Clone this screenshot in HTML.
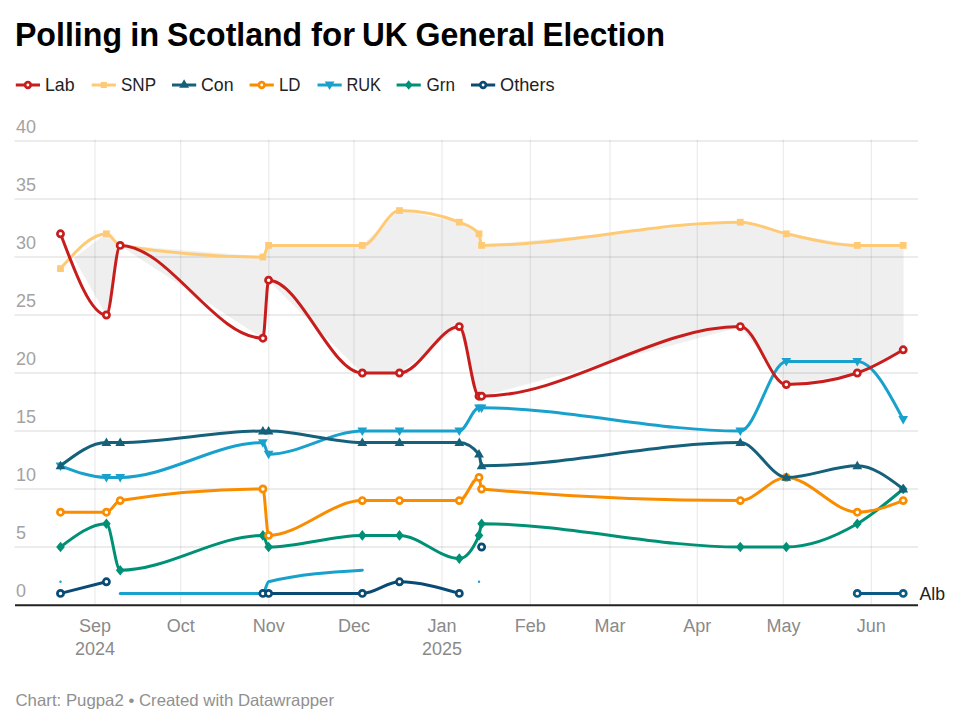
<!DOCTYPE html>
<html><head><meta charset="utf-8"><title>Polling in Scotland for UK General Election</title>
<style>
html,body{margin:0;padding:0;background:#fff;}
body{width:960px;height:726px;overflow:hidden;font-family:"Liberation Sans",sans-serif;}
svg{display:block;}
text{font-family:"Liberation Sans",sans-serif;}
.title{font-size:33px;font-weight:bold;fill:#000;}
.leg{font-size:19px;fill:#222;}
.yl{font-size:18px;fill:#a3a3a3;}
.xl{font-size:18px;fill:#8a8a8a;text-anchor:middle;}
.lab{font-size:19px;fill:#222;}
.foot{font-size:16.5px;fill:#909090;}
</style></head><body>
<svg width="960" height="726" viewBox="0 0 960 726">
<rect width="960" height="726" fill="#fff"/>
<text x="14.93" y="46.2" class="title" textLength="107.13" lengthAdjust="spacingAndGlyphs">Polling</text><text x="130.24" y="46.2" class="title" textLength="29.00" lengthAdjust="spacingAndGlyphs">in</text><text x="166.98" y="46.2" class="title" textLength="135.08" lengthAdjust="spacingAndGlyphs">Scotland</text><text x="310.98" y="46.2" class="title" textLength="44.04" lengthAdjust="spacingAndGlyphs">for</text><text x="361.91" y="46.2" class="title" textLength="45.60" lengthAdjust="spacingAndGlyphs">UK</text><text x="415.48" y="46.2" class="title" textLength="119.57" lengthAdjust="spacingAndGlyphs">General</text><text x="542.46" y="46.2" class="title" textLength="122.58" lengthAdjust="spacingAndGlyphs">Election</text>
<path d="M74.27,258.16L106.40,233.80L106.40,315.00ZM106.40,233.80L120.20,245.40L120.20,245.40L106.40,315.00ZM120.20,245.40L262.90,257.00L262.90,338.20L120.20,245.40ZM262.90,257.00L268.60,245.40L268.60,280.20L262.90,338.20ZM268.60,245.40L362.30,245.40L362.30,373.00L268.60,280.20ZM362.30,245.40L399.50,210.60L399.50,373.00L362.30,373.00ZM399.50,210.60L459.30,222.20L459.30,326.60L399.50,373.00ZM459.30,222.20L479.00,233.80L479.00,396.20L459.30,326.60ZM479.00,233.80L481.60,245.40L481.60,396.20L479.00,396.20ZM481.60,245.40L740.30,222.20L740.30,326.60L481.60,396.20ZM740.30,222.20L786.30,233.80L786.30,384.60L740.30,326.60ZM786.30,233.80L857.30,245.40L857.30,373.00L786.30,384.60ZM857.30,245.40L903.20,245.40L903.20,349.80L857.30,373.00Z" fill="#efefef" stroke="#efefef" stroke-width="0.6"/>
<line x1="14.5" x2="918" y1="547.0" y2="547.0" stroke="#000" stroke-opacity="0.1" stroke-width="1.5"/>
<line x1="14.5" x2="918" y1="489.0" y2="489.0" stroke="#000" stroke-opacity="0.1" stroke-width="1.5"/>
<line x1="14.5" x2="918" y1="431.0" y2="431.0" stroke="#000" stroke-opacity="0.1" stroke-width="1.5"/>
<line x1="14.5" x2="918" y1="373.0" y2="373.0" stroke="#000" stroke-opacity="0.1" stroke-width="1.5"/>
<line x1="14.5" x2="918" y1="315.0" y2="315.0" stroke="#000" stroke-opacity="0.1" stroke-width="1.5"/>
<line x1="14.5" x2="918" y1="257.0" y2="257.0" stroke="#000" stroke-opacity="0.1" stroke-width="1.5"/>
<line x1="14.5" x2="918" y1="199.0" y2="199.0" stroke="#000" stroke-opacity="0.1" stroke-width="1.5"/>
<line x1="14.5" x2="918" y1="141.0" y2="141.0" stroke="#000" stroke-opacity="0.1" stroke-width="1.5"/>
<line x1="95.0" x2="95.0" y1="139.5" y2="605" stroke="#000" stroke-opacity="0.075" stroke-width="1.3"/>
<line x1="180.7" x2="180.7" y1="139.5" y2="605" stroke="#000" stroke-opacity="0.075" stroke-width="1.3"/>
<line x1="268.8" x2="268.8" y1="139.5" y2="605" stroke="#000" stroke-opacity="0.075" stroke-width="1.3"/>
<line x1="354.0" x2="354.0" y1="139.5" y2="605" stroke="#000" stroke-opacity="0.075" stroke-width="1.3"/>
<line x1="442.0" x2="442.0" y1="139.5" y2="605" stroke="#000" stroke-opacity="0.075" stroke-width="1.3"/>
<line x1="530.3" x2="530.3" y1="139.5" y2="605" stroke="#000" stroke-opacity="0.075" stroke-width="1.3"/>
<line x1="610.0" x2="610.0" y1="139.5" y2="605" stroke="#000" stroke-opacity="0.075" stroke-width="1.3"/>
<line x1="697.3" x2="697.3" y1="139.5" y2="605" stroke="#000" stroke-opacity="0.075" stroke-width="1.3"/>
<line x1="783.4" x2="783.4" y1="139.5" y2="605" stroke="#000" stroke-opacity="0.075" stroke-width="1.3"/>
<line x1="871.3" x2="871.3" y1="139.5" y2="605" stroke="#000" stroke-opacity="0.075" stroke-width="1.3"/>
<text x="16" y="596.7" class="yl">0</text>
<text x="16" y="538.7" class="yl">5</text>
<text x="16" y="480.7" class="yl">10</text>
<text x="16" y="422.7" class="yl">15</text>
<text x="16" y="364.7" class="yl">20</text>
<text x="16" y="306.7" class="yl">25</text>
<text x="16" y="248.7" class="yl">30</text>
<text x="16" y="190.7" class="yl">35</text>
<text x="16" y="132.7" class="yl">40</text>
<line x1="15" x2="918" y1="605.2" y2="605.2" stroke="#222" stroke-width="2"/>
<text x="95.0" y="631.5" class="xl">Sep</text>
<text x="180.7" y="631.5" class="xl">Oct</text>
<text x="268.8" y="631.5" class="xl">Nov</text>
<text x="354.0" y="631.5" class="xl">Dec</text>
<text x="442.0" y="631.5" class="xl">Jan</text>
<text x="530.3" y="631.5" class="xl">Feb</text>
<text x="610.0" y="631.5" class="xl">Mar</text>
<text x="697.3" y="631.5" class="xl">Apr</text>
<text x="783.4" y="631.5" class="xl">May</text>
<text x="871.3" y="631.5" class="xl">Jun</text>
<text x="95.0" y="655" class="xl">2024</text>
<text x="442.0" y="655" class="xl">2025</text>
<g><circle cx="60.50" cy="581.80" r="1.2" fill="#18a1cd"/><path d="M120.20,593.40C167.77,593.40,215.33,593.40,262.90,593.40C264.80,593.40,266.70,582.27,268.60,581.80C299.83,574.07,331.07,572.13,362.30,570.20" fill="none" stroke="#18a1cd" stroke-width="3.0" stroke-linejoin="round" stroke-linecap="round"/><circle cx="479.00" cy="581.80" r="1.2" fill="#18a1cd"/></g>
<g><path d="M60.50,593.40L106.40,581.80" fill="none" stroke="#0a4b75" stroke-width="3.0" stroke-linejoin="round" stroke-linecap="round"/><path d="M262.90,593.40C264.80,593.40,266.70,593.40,268.60,593.40C299.83,593.40,331.07,593.40,362.30,593.40C374.70,593.40,387.10,581.80,399.50,581.80C419.43,581.80,439.37,587.60,459.30,593.40" fill="none" stroke="#0a4b75" stroke-width="3.0" stroke-linejoin="round" stroke-linecap="round"/><circle cx="60.50" cy="593.40" r="3.10" fill="#fff" stroke="#0a4b75" stroke-width="2.7"/><circle cx="106.40" cy="581.80" r="3.10" fill="#fff" stroke="#0a4b75" stroke-width="2.7"/><circle cx="262.90" cy="593.40" r="3.10" fill="#fff" stroke="#0a4b75" stroke-width="2.7"/><circle cx="268.60" cy="593.40" r="3.10" fill="#fff" stroke="#0a4b75" stroke-width="2.7"/><circle cx="362.30" cy="593.40" r="3.10" fill="#fff" stroke="#0a4b75" stroke-width="2.7"/><circle cx="399.50" cy="581.80" r="3.10" fill="#fff" stroke="#0a4b75" stroke-width="2.7"/><circle cx="459.30" cy="593.40" r="3.10" fill="#fff" stroke="#0a4b75" stroke-width="2.7"/><circle cx="481.60" cy="547.00" r="3.10" fill="#fff" stroke="#0a4b75" stroke-width="2.7"/></g>
<g><path d="M857.30,593.40L903.20,593.40" fill="none" stroke="#0b5a85" stroke-width="3.0" stroke-linejoin="round" stroke-linecap="round"/><circle cx="857.30" cy="593.40" r="3.10" fill="#fff" stroke="#0b5a85" stroke-width="2.7"/><circle cx="903.20" cy="593.40" r="3.10" fill="#fff" stroke="#0b5a85" stroke-width="2.7"/></g>
<g><path d="M60.50,547.00C75.80,535.40,91.10,523.80,106.40,523.80C111.00,523.80,115.60,570.20,120.20,570.20C167.77,570.20,215.33,535.40,262.90,535.40C264.80,535.40,266.70,547.00,268.60,547.00C299.83,547.00,331.07,535.40,362.30,535.40C374.70,535.40,387.10,535.40,399.50,535.40C419.43,535.40,439.37,558.60,459.30,558.60C465.87,558.60,472.43,550.87,479.00,535.40C479.87,533.36,480.73,523.80,481.60,523.80C567.83,523.80,654.07,547.00,740.30,547.00C755.63,547.00,770.97,547.00,786.30,547.00C809.97,547.00,833.63,537.73,857.30,523.80C872.60,514.79,887.90,501.90,903.20,489.00" fill="none" stroke="#009076" stroke-width="3.0" stroke-linejoin="round" stroke-linecap="round"/><path d="M60.50,541.70L64.80,547.00L60.50,552.30L56.20,547.00Z" fill="#009076"/><path d="M106.40,518.50L110.70,523.80L106.40,529.10L102.10,523.80Z" fill="#009076"/><path d="M120.20,564.90L124.50,570.20L120.20,575.50L115.90,570.20Z" fill="#009076"/><path d="M262.90,530.10L267.20,535.40L262.90,540.70L258.60,535.40Z" fill="#009076"/><path d="M268.60,541.70L272.90,547.00L268.60,552.30L264.30,547.00Z" fill="#009076"/><path d="M362.30,530.10L366.60,535.40L362.30,540.70L358.00,535.40Z" fill="#009076"/><path d="M399.50,530.10L403.80,535.40L399.50,540.70L395.20,535.40Z" fill="#009076"/><path d="M459.30,553.30L463.60,558.60L459.30,563.90L455.00,558.60Z" fill="#009076"/><path d="M479.00,530.10L483.30,535.40L479.00,540.70L474.70,535.40Z" fill="#009076"/><path d="M481.60,518.50L485.90,523.80L481.60,529.10L477.30,523.80Z" fill="#009076"/><path d="M740.30,541.70L744.60,547.00L740.30,552.30L736.00,547.00Z" fill="#009076"/><path d="M786.30,541.70L790.60,547.00L786.30,552.30L782.00,547.00Z" fill="#009076"/><path d="M857.30,518.50L861.60,523.80L857.30,529.10L853.00,523.80Z" fill="#009076"/><path d="M903.20,483.70L907.50,489.00L903.20,494.30L898.90,489.00Z" fill="#009076"/></g>
<g><path d="M60.50,465.80C75.80,471.60,91.10,477.40,106.40,477.40C111.00,477.40,115.60,477.40,120.20,477.40C167.77,477.40,215.33,442.60,262.90,442.60C264.80,442.60,266.70,454.20,268.60,454.20C299.83,454.20,331.07,431.00,362.30,431.00C374.70,431.00,387.10,431.00,399.50,431.00C419.43,431.00,439.37,431.00,459.30,431.00C465.87,431.00,472.43,407.80,479.00,407.80C479.87,407.80,480.73,407.80,481.60,407.80C567.83,407.80,654.07,431.00,740.30,431.00C755.63,431.00,770.97,361.40,786.30,361.40C809.97,361.40,833.63,361.40,857.30,361.40C872.60,361.40,887.90,390.40,903.20,419.40" fill="none" stroke="#18a1cd" stroke-width="3.0" stroke-linejoin="round" stroke-linecap="round"/><path d="M60.50,470.90L65.40,462.40L55.60,462.40Z" fill="#18a1cd"/><path d="M106.40,482.50L111.30,474.00L101.50,474.00Z" fill="#18a1cd"/><path d="M120.20,482.50L125.10,474.00L115.30,474.00Z" fill="#18a1cd"/><path d="M262.90,447.70L267.80,439.20L258.00,439.20Z" fill="#18a1cd"/><path d="M268.60,459.30L273.50,450.80L263.70,450.80Z" fill="#18a1cd"/><path d="M362.30,436.10L367.20,427.60L357.40,427.60Z" fill="#18a1cd"/><path d="M399.50,436.10L404.40,427.60L394.60,427.60Z" fill="#18a1cd"/><path d="M459.30,436.10L464.20,427.60L454.40,427.60Z" fill="#18a1cd"/><path d="M479.00,412.90L483.90,404.40L474.10,404.40Z" fill="#18a1cd"/><path d="M481.60,412.90L486.50,404.40L476.70,404.40Z" fill="#18a1cd"/><path d="M740.30,436.10L745.20,427.60L735.40,427.60Z" fill="#18a1cd"/><path d="M786.30,366.50L791.20,358.00L781.40,358.00Z" fill="#18a1cd"/><path d="M857.30,366.50L862.20,358.00L852.40,358.00Z" fill="#18a1cd"/><path d="M903.20,424.50L908.10,416.00L898.30,416.00Z" fill="#18a1cd"/></g>
<g><path d="M60.50,512.20C75.80,512.20,91.10,512.20,106.40,512.20C111.00,512.20,115.60,501.35,120.20,500.60C167.77,492.87,215.33,489.00,262.90,489.00C264.80,489.00,266.70,535.40,268.60,535.40C299.83,535.40,331.07,500.60,362.30,500.60C374.70,500.60,387.10,500.60,399.50,500.60C419.43,500.60,439.37,500.60,459.30,500.60C465.87,500.60,472.43,477.40,479.00,477.40C479.87,477.40,480.73,488.92,481.60,489.00C567.83,496.73,654.07,500.60,740.30,500.60C755.63,500.60,770.97,477.40,786.30,477.40C809.97,477.40,833.63,512.20,857.30,512.20C872.60,512.20,887.90,506.40,903.20,500.60" fill="none" stroke="#fa8c00" stroke-width="3.0" stroke-linejoin="round" stroke-linecap="round"/><circle cx="60.50" cy="512.20" r="3.10" fill="#fff" stroke="#fa8c00" stroke-width="2.7"/><circle cx="106.40" cy="512.20" r="3.10" fill="#fff" stroke="#fa8c00" stroke-width="2.7"/><circle cx="120.20" cy="500.60" r="3.10" fill="#fff" stroke="#fa8c00" stroke-width="2.7"/><circle cx="262.90" cy="489.00" r="3.10" fill="#fff" stroke="#fa8c00" stroke-width="2.7"/><circle cx="268.60" cy="535.40" r="3.10" fill="#fff" stroke="#fa8c00" stroke-width="2.7"/><circle cx="362.30" cy="500.60" r="3.10" fill="#fff" stroke="#fa8c00" stroke-width="2.7"/><circle cx="399.50" cy="500.60" r="3.10" fill="#fff" stroke="#fa8c00" stroke-width="2.7"/><circle cx="459.30" cy="500.60" r="3.10" fill="#fff" stroke="#fa8c00" stroke-width="2.7"/><circle cx="479.00" cy="477.40" r="3.10" fill="#fff" stroke="#fa8c00" stroke-width="2.7"/><circle cx="481.60" cy="489.00" r="3.10" fill="#fff" stroke="#fa8c00" stroke-width="2.7"/><circle cx="740.30" cy="500.60" r="3.10" fill="#fff" stroke="#fa8c00" stroke-width="2.7"/><circle cx="786.30" cy="477.40" r="3.10" fill="#fff" stroke="#fa8c00" stroke-width="2.7"/><circle cx="857.30" cy="512.20" r="3.10" fill="#fff" stroke="#fa8c00" stroke-width="2.7"/><circle cx="903.20" cy="500.60" r="3.10" fill="#fff" stroke="#fa8c00" stroke-width="2.7"/></g>
<g><path d="M60.50,465.80C75.80,454.20,91.10,442.60,106.40,442.60C111.00,442.60,115.60,442.60,120.20,442.60C167.77,442.60,215.33,431.00,262.90,431.00C264.80,431.00,266.70,431.00,268.60,431.00C299.83,431.00,331.07,442.60,362.30,442.60C374.70,442.60,387.10,442.60,399.50,442.60C419.43,442.60,439.37,442.60,459.30,442.60C465.87,442.60,472.43,446.47,479.00,454.20C479.87,455.22,480.73,465.80,481.60,465.80C567.83,465.80,654.07,442.60,740.30,442.60C755.63,442.60,770.97,477.40,786.30,477.40C809.97,477.40,833.63,465.80,857.30,465.80C872.60,465.80,887.90,477.40,903.20,489.00" fill="none" stroke="#15607a" stroke-width="3.0" stroke-linejoin="round" stroke-linecap="round"/><path d="M60.50,460.70L65.40,469.20L55.60,469.20Z" fill="#15607a"/><path d="M106.40,437.50L111.30,446.00L101.50,446.00Z" fill="#15607a"/><path d="M120.20,437.50L125.10,446.00L115.30,446.00Z" fill="#15607a"/><path d="M262.90,425.90L267.80,434.40L258.00,434.40Z" fill="#15607a"/><path d="M268.60,425.90L273.50,434.40L263.70,434.40Z" fill="#15607a"/><path d="M362.30,437.50L367.20,446.00L357.40,446.00Z" fill="#15607a"/><path d="M399.50,437.50L404.40,446.00L394.60,446.00Z" fill="#15607a"/><path d="M459.30,437.50L464.20,446.00L454.40,446.00Z" fill="#15607a"/><path d="M479.00,449.10L483.90,457.60L474.10,457.60Z" fill="#15607a"/><path d="M481.60,460.70L486.50,469.20L476.70,469.20Z" fill="#15607a"/><path d="M740.30,437.50L745.20,446.00L735.40,446.00Z" fill="#15607a"/><path d="M786.30,472.30L791.20,480.80L781.40,480.80Z" fill="#15607a"/><path d="M857.30,460.70L862.20,469.20L852.40,469.20Z" fill="#15607a"/><path d="M903.20,483.90L908.10,492.40L898.30,492.40Z" fill="#15607a"/></g>
<g><path d="M60.50,268.60C75.80,251.20,91.10,233.80,106.40,233.80C111.00,233.80,115.60,244.65,120.20,245.40C167.77,253.13,215.33,257.00,262.90,257.00C264.80,257.00,266.70,245.40,268.60,245.40C299.83,245.40,331.07,245.40,362.30,245.40C374.70,245.40,387.10,210.60,399.50,210.60C419.43,210.60,439.37,214.47,459.30,222.20C465.87,224.75,472.43,226.07,479.00,233.80C479.87,234.82,480.73,245.40,481.60,245.40C567.83,245.40,654.07,222.20,740.30,222.20C755.63,222.20,770.97,230.47,786.30,233.80C809.97,238.94,833.63,245.40,857.30,245.40C872.60,245.40,887.90,245.40,903.20,245.40" fill="none" stroke="#ffca76" stroke-width="3.0" stroke-linejoin="round" stroke-linecap="round"/><rect x="57.10" y="265.20" width="6.80" height="6.80" fill="#ffca76"/><rect x="103.00" y="230.40" width="6.80" height="6.80" fill="#ffca76"/><rect x="116.80" y="242.00" width="6.80" height="6.80" fill="#ffca76"/><rect x="259.50" y="253.60" width="6.80" height="6.80" fill="#ffca76"/><rect x="265.20" y="242.00" width="6.80" height="6.80" fill="#ffca76"/><rect x="358.90" y="242.00" width="6.80" height="6.80" fill="#ffca76"/><rect x="396.10" y="207.20" width="6.80" height="6.80" fill="#ffca76"/><rect x="455.90" y="218.80" width="6.80" height="6.80" fill="#ffca76"/><rect x="475.60" y="230.40" width="6.80" height="6.80" fill="#ffca76"/><rect x="478.20" y="242.00" width="6.80" height="6.80" fill="#ffca76"/><rect x="736.90" y="218.80" width="6.80" height="6.80" fill="#ffca76"/><rect x="782.90" y="230.40" width="6.80" height="6.80" fill="#ffca76"/><rect x="853.90" y="242.00" width="6.80" height="6.80" fill="#ffca76"/><rect x="899.80" y="242.00" width="6.80" height="6.80" fill="#ffca76"/></g>
<g><path d="M60.50,233.80C75.80,274.40,91.10,315.00,106.40,315.00C111.00,315.00,115.60,245.40,120.20,245.40C167.77,245.40,215.33,338.20,262.90,338.20C264.80,338.20,266.70,280.20,268.60,280.20C299.83,280.20,331.07,373.00,362.30,373.00C374.70,373.00,387.10,373.00,399.50,373.00C419.43,373.00,439.37,326.60,459.30,326.60C465.87,326.60,472.43,396.20,479.00,396.20C479.87,396.20,480.73,396.20,481.60,396.20C567.83,396.20,654.07,326.60,740.30,326.60C755.63,326.60,770.97,384.60,786.30,384.60C809.97,384.60,833.63,380.73,857.30,373.00C872.60,368.00,887.90,358.90,903.20,349.80" fill="none" stroke="#c71e1d" stroke-width="3.0" stroke-linejoin="round" stroke-linecap="round"/><circle cx="60.50" cy="233.80" r="3.10" fill="#fff" stroke="#c71e1d" stroke-width="2.7"/><circle cx="106.40" cy="315.00" r="3.10" fill="#fff" stroke="#c71e1d" stroke-width="2.7"/><circle cx="120.20" cy="245.40" r="3.10" fill="#fff" stroke="#c71e1d" stroke-width="2.7"/><circle cx="262.90" cy="338.20" r="3.10" fill="#fff" stroke="#c71e1d" stroke-width="2.7"/><circle cx="268.60" cy="280.20" r="3.10" fill="#fff" stroke="#c71e1d" stroke-width="2.7"/><circle cx="362.30" cy="373.00" r="3.10" fill="#fff" stroke="#c71e1d" stroke-width="2.7"/><circle cx="399.50" cy="373.00" r="3.10" fill="#fff" stroke="#c71e1d" stroke-width="2.7"/><circle cx="459.30" cy="326.60" r="3.10" fill="#fff" stroke="#c71e1d" stroke-width="2.7"/><circle cx="479.00" cy="396.20" r="3.10" fill="#fff" stroke="#c71e1d" stroke-width="2.7"/><circle cx="481.60" cy="396.20" r="3.10" fill="#fff" stroke="#c71e1d" stroke-width="2.7"/><circle cx="740.30" cy="326.60" r="3.10" fill="#fff" stroke="#c71e1d" stroke-width="2.7"/><circle cx="786.30" cy="384.60" r="3.10" fill="#fff" stroke="#c71e1d" stroke-width="2.7"/><circle cx="857.30" cy="373.00" r="3.10" fill="#fff" stroke="#c71e1d" stroke-width="2.7"/><circle cx="903.20" cy="349.80" r="3.10" fill="#fff" stroke="#c71e1d" stroke-width="2.7"/></g>
<text x="919.50" y="600.4" class="lab" textLength="25.52" lengthAdjust="spacingAndGlyphs">Alb</text>
<line x1="15.8" x2="40.0" y1="85.0" y2="85.0" stroke="#c71e1d" stroke-width="3"/>
<circle cx="27.90" cy="85.00" r="2.79" fill="#fff" stroke="#c71e1d" stroke-width="2.7"/>
<text x="44.95" y="91.3" class="leg" textLength="29.59" lengthAdjust="spacingAndGlyphs">Lab</text>
<line x1="91.7" x2="115.9" y1="85.0" y2="85.0" stroke="#ffca76" stroke-width="3"/>
<rect x="100.74" y="81.94" width="6.12" height="6.12" fill="#ffca76"/>
<text x="120.98" y="91.3" class="leg" textLength="35.05" lengthAdjust="spacingAndGlyphs">SNP</text>
<line x1="172.0" x2="196.2" y1="85.0" y2="85.0" stroke="#15607a" stroke-width="3"/>
<path d="M184.10,79.30L189.00,87.80L179.20,87.80Z" fill="#15607a"/>
<text x="200.96" y="91.3" class="leg" textLength="32.56" lengthAdjust="spacingAndGlyphs">Con</text>
<line x1="249.6" x2="273.8" y1="85.0" y2="85.0" stroke="#fa8c00" stroke-width="3"/>
<circle cx="261.70" cy="85.00" r="2.79" fill="#fff" stroke="#fa8c00" stroke-width="2.7"/>
<text x="278.94" y="91.3" class="leg" textLength="21.60" lengthAdjust="spacingAndGlyphs">LD</text>
<line x1="317.5" x2="341.7" y1="85.0" y2="85.0" stroke="#18a1cd" stroke-width="3"/>
<path d="M329.60,90.10L334.50,81.60L324.70,81.60Z" fill="#18a1cd"/>
<text x="346.47" y="91.3" class="leg" textLength="34.56" lengthAdjust="spacingAndGlyphs">RUK</text>
<line x1="396.6" x2="420.8" y1="85.0" y2="85.0" stroke="#009076" stroke-width="3"/>
<path d="M408.70,80.23L412.57,85.00L408.70,89.77L404.83,85.00Z" fill="#009076"/>
<text x="426.47" y="91.3" class="leg" textLength="28.54" lengthAdjust="spacingAndGlyphs">Grn</text>
<line x1="471.0" x2="495.2" y1="85.0" y2="85.0" stroke="#0a4b75" stroke-width="3"/>
<circle cx="483.10" cy="85.00" r="2.79" fill="#fff" stroke="#0a4b75" stroke-width="2.7"/>
<text x="500.00" y="91.3" class="leg" textLength="54.52" lengthAdjust="spacingAndGlyphs">Others</text>
<text x="15.50" y="706.2" class="foot" textLength="318.50" lengthAdjust="spacingAndGlyphs">Chart: Pugpa2 • Created with Datawrapper</text>
</svg>
</body></html>
